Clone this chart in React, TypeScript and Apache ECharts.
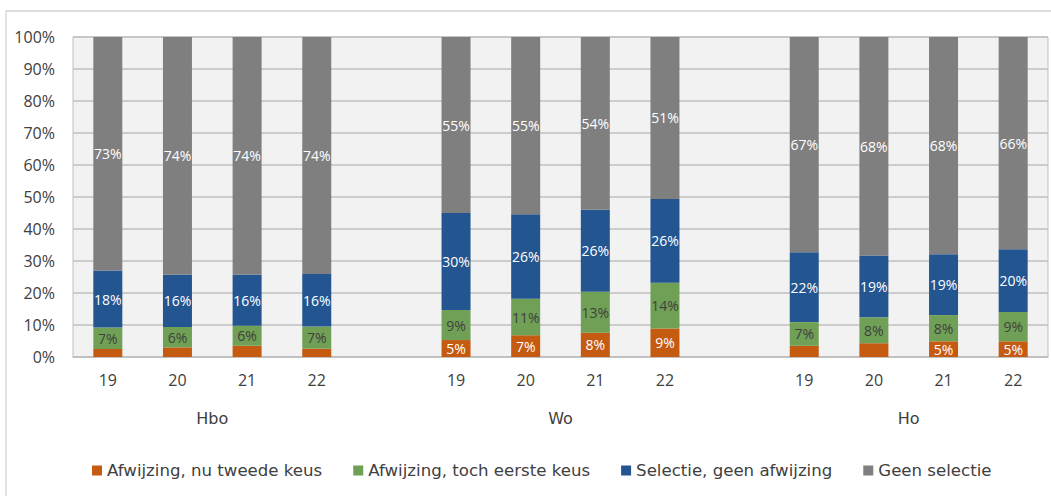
import React, { useEffect, useRef } from "react";
import * as echarts from "echarts";

const groups = ["Hbo", "Wo", "Ho"];
const years = ["19", "20", "21", "22"];
const seriesNames = [
  "Afwijzing, nu tweede keus",
  "Afwijzing, toch eerste keus",
  "Selectie, geen afwijzing",
  "Geen selectie",
];
// values per group (Hbo, Wo, Ho), per year 19..22
const tweedeKeus = [
  [2.5, 3.0, 3.5, 2.6],
  [5.3, 6.8, 7.6, 8.9],
  [3.5, 4.3, 4.9, 4.9],
];
const eersteKeus = [
  [6.7, 6.4, 6.3, 6.9],
  [9.4, 11.4, 12.8, 14.3],
  [7.4, 8.1, 8.2, 9.2],
];
const geenAfwijzing = [
  [17.8, 16.3, 15.9, 16.4],
  [30.3, 26.4, 25.6, 26.2],
  [21.8, 19.3, 19.0, 19.6],
];
const geenSelectie = [
  [73.0, 74.3, 74.3, 74.1],
  [55.0, 55.4, 54.0, 50.6],
  [67.3, 68.3, 67.9, 66.3],
];
const yTicks = [0, 10, 20, 30, 40, 50, 60, 70, 80, 90, 100];

const colors = ["#C55A11", "#70A055", "#235591", "#7F7F7F"];
const labelColors = ["#FFFFFF", "#404040", "#FFFFFF", "#FFFFFF"];

function flatten(vals: number[][]): (number | string)[] {
  const out: (number | string)[] = [];
  vals.forEach((g, i) => {
    g.forEach((v) => out.push(v));
    if (i < vals.length - 1) out.push("-");
  });
  return out;
}

function categories(): string[] {
  const out: string[] = [];
  groups.forEach((_, i) => {
    years.forEach((y) => out.push(y));
    if (i < groups.length - 1) out.push("");
  });
  return out;
}

function groupAxis(): string[] {
  // boundary-aligned axis: 15 points, group label at the centre of each block of 4
  const out: string[] = [];
  for (let i = 0; i <= 14; i++) out.push("");
  groups.forEach((g, i) => {
    out[i * 5 + 2] = g;
  });
  return out;
}

export default function App() {
  const ref = useRef<HTMLDivElement>(null);
  useEffect(() => {
    if (!ref.current) return;
    const chart = echarts.init(ref.current, null, { renderer: "svg" });
    const allVals = [tweedeKeus, eersteKeus, geenAfwijzing, geenSelectie];
    const numFont = "'Open Sans', sans-serif";
    const txtFont = "'DejaVu Sans', sans-serif";
    chart.setOption({
      animation: false,
      backgroundColor: "#FFFFFF",
      graphic: [
        {
          type: "rect",
          shape: { x: 6, y: 11, width: 1200, height: 700 },
          style: { fill: "none", stroke: "#D4D4D4", lineWidth: 1.3 },
          z: -10,
        },
      ],
      grid: {
        left: 73,
        top: 37,
        width: 979,
        height: 320,
        show: true,
        backgroundColor: "#F2F2F2",
        borderColor: "#BFBFBF",
        borderWidth: 1,
      },
      legend: {
        left: 87,
        top: 457,
        itemWidth: 10,
        itemHeight: 10,
        itemGap: 31,
        icon: "rect",
        textStyle: { fontFamily: txtFont, fontSize: 16.6, color: "#404040" },
        data: seriesNames,
      },
      xAxis: [
        {
          type: "category",
          data: categories(),
          axisTick: { show: false },
          axisLine: { show: true, lineStyle: { color: "#BFBFBF", width: 1.5 } },
          axisLabel: {
            interval: 0,
            margin: 15,
            fontFamily: numFont,
            fontSize: 16,
            color: "#404040",
          },
        },
        {
          type: "category",
          position: "bottom",
          boundaryGap: false,
          data: groupAxis(),
          axisTick: { show: false },
          axisLine: { show: false },
          splitLine: { show: false },
          axisLabel: {
            interval: 0,
            margin: 53,
            fontFamily: txtFont,
            fontSize: 16,
            color: "#404040",
          },
        },
      ],
      yAxis: {
        type: "value",
        min: yTicks[0],
        max: yTicks[yTicks.length - 1],
        interval: 10,
        axisLine: { show: false },
        axisTick: { show: false },
        splitLine: { lineStyle: { color: "#BFBFBF", width: 1.5 } },
        axisLabel: {
          formatter: "{value}%",
          margin: 18,
          fontFamily: numFont,
          fontSize: 16,
          color: "#404040",
        },
      },
      series: seriesNames.map((name, si) => ({
        name,
        type: "bar",
        stack: "total",
        xAxisIndex: 0,
        barWidth: 29,
        itemStyle: { color: colors[si] },
        label: {
          show: true,
          position: "inside",
          fontFamily: numFont,
          fontSize: 14,
          color: labelColors[si],
          formatter: (p: any) =>
            typeof p.value === "number" && p.value >= 4.5
              ? Math.round(p.value) + "%"
              : "",
        },
        data: flatten(allVals[si]),
      })),
    });
    return () => chart.dispose();
  }, []);
  return (
    <div
      ref={ref}
      style={{ position: "absolute", left: 0, top: 0, width: 1051, height: 496 }}
    />
  );
}
